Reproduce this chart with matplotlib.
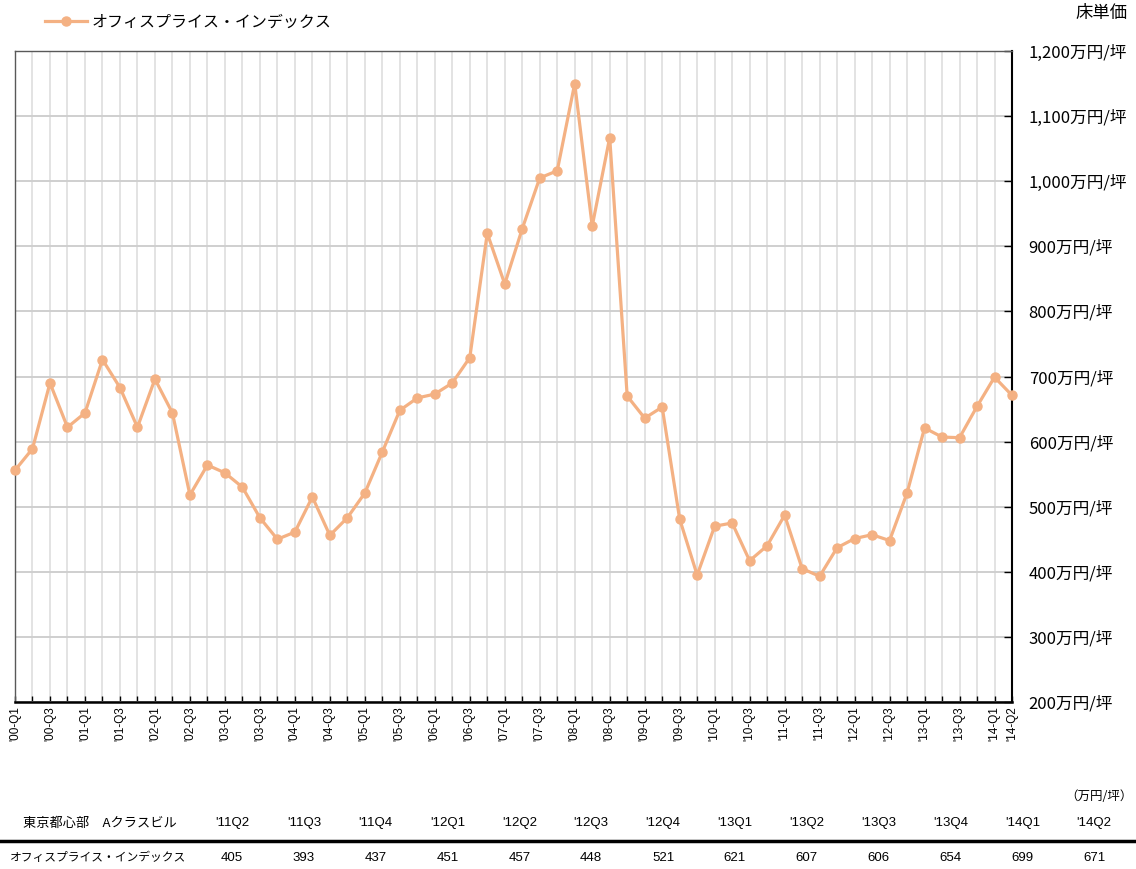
import matplotlib.pyplot as plt
from matplotlib.lines import Line2D

plt.rcParams['font.family'] = ['Noto Sans CJK JP', 'DejaVu Sans']

# オフィスプライス・インデックス（万円/坪）'00-Q1 〜 '14-Q2
prices = [556, 589, 690, 622, 644, 726, 683, 622, 696, 644,
          518, 564, 552, 530, 483, 450, 461, 515, 456, 483,
          521, 584, 648, 667, 673, 690, 729, 920, 842, 927,
          1005, 1016, 1150, 931, 1067, 670, 636, 653, 481, 395,
          470, 475, 417, 440, 487, 405, 393, 437, 451, 457,
          448, 521, 621, 607, 606, 654, 699, 671]

quarters = []
for y in range(2000, 2015):
    for q in range(1, 5):
        quarters.append(f"'{y % 100:02d}-Q{q}")
quarters = quarters[:len(prices)]

y_ticks = list(range(200, 1201, 100))

table_cols = ["'11Q2", "'11Q3", "'11Q4", "'12Q1", "'12Q2", "'12Q3", "'12Q4",
              "'13Q1", "'13Q2", "'13Q3", "'13Q4", "'14Q1", "'14Q2"]
table_vals = prices[-len(table_cols):]

series_name = 'オフィスプライス・インデックス'
line_color = '#F4B183'
latin = ['Liberation Sans', 'DejaVu Sans']

fig = plt.figure(figsize=(11.36, 8.69), dpi=100)
ax = fig.add_axes([15 / 1136, 1 - 702 / 869, (1012 - 15) / 1136, (702 - 51) / 869])

x = list(range(len(prices)))
ax.plot(x, prices, color=line_color, lw=2.3, marker='o', markersize=6.5,
        label=series_name, clip_on=False, zorder=5)

ax.set_xlim(0, len(prices) - 1)
ax.set_ylim(200, 1200)

# 目盛り
ax.set_xticks(x)
labels = [q if (i % 2 == 0 or i == len(prices) - 1) else '' for i, q in enumerate(quarters)]
ax.set_xticklabels(labels, rotation=90, fontsize=8.5, family=latin)
ax.tick_params(axis='x', direction='in', length=4, width=1, color='black', pad=3)

ax.yaxis.tick_right()
ax.set_yticks(y_ticks)
ax.set_yticklabels([f'{v:,}万円/坪' for v in y_ticks], fontsize=12)
ax.tick_params(axis='y', direction='in', length=6, width=1, color='black', pad=12)

# グリッド
ax.grid(axis='y', color='#CFCFCF', lw=1.4)
ax.grid(axis='x', color='#E0E0E0', lw=1.3)
ax.set_axisbelow(True)

for side in ['top', 'left']:
    ax.spines[side].set_color('#595959')
    ax.spines[side].set_linewidth(1.0)
ax.spines['bottom'].set_color('black')
ax.spines['bottom'].set_linewidth(1.8)
ax.spines['right'].set_color('black')
ax.spines['right'].set_linewidth(1.5)

fig.text(1128 / 1136, 1 - 13 / 869, '床単価', ha='right', va='center', fontsize=12.5)

fig.legend(loc='center left', bbox_to_anchor=(0.027, 1 - 22 / 869), frameon=False,
           fontsize=11.5, handlelength=2.6, handletextpad=0.3)

# 下の表
col_x = [232 + i * 71.85 for i in range(len(table_cols))]
fig.text(1133 / 1136, 1 - 797 / 869, '（万円/坪）', ha='right', va='center', fontsize=9)
fig.text(100 / 1136, 1 - 823 / 869, '東京都心部　Aクラスビル', ha='center', va='center', fontsize=9.5)
fig.text(10 / 1136, 1 - 858 / 869, series_name, ha='left', va='center', fontsize=8.5)
for cx, c, v in zip(col_x, table_cols, table_vals):
    fig.text(cx / 1136, 1 - 823 / 869, c, ha='center', va='center', fontsize=9.5, family=latin)
    fig.text(cx / 1136, 1 - 858 / 869, str(v), ha='center', va='center', fontsize=9.5, family=latin)

fig.add_artist(Line2D([0, 1], [1 - 841 / 869, 1 - 841 / 869], color='black', lw=2.5,
                      transform=fig.transFigure))

fig.savefig('out.png', dpi=100)
